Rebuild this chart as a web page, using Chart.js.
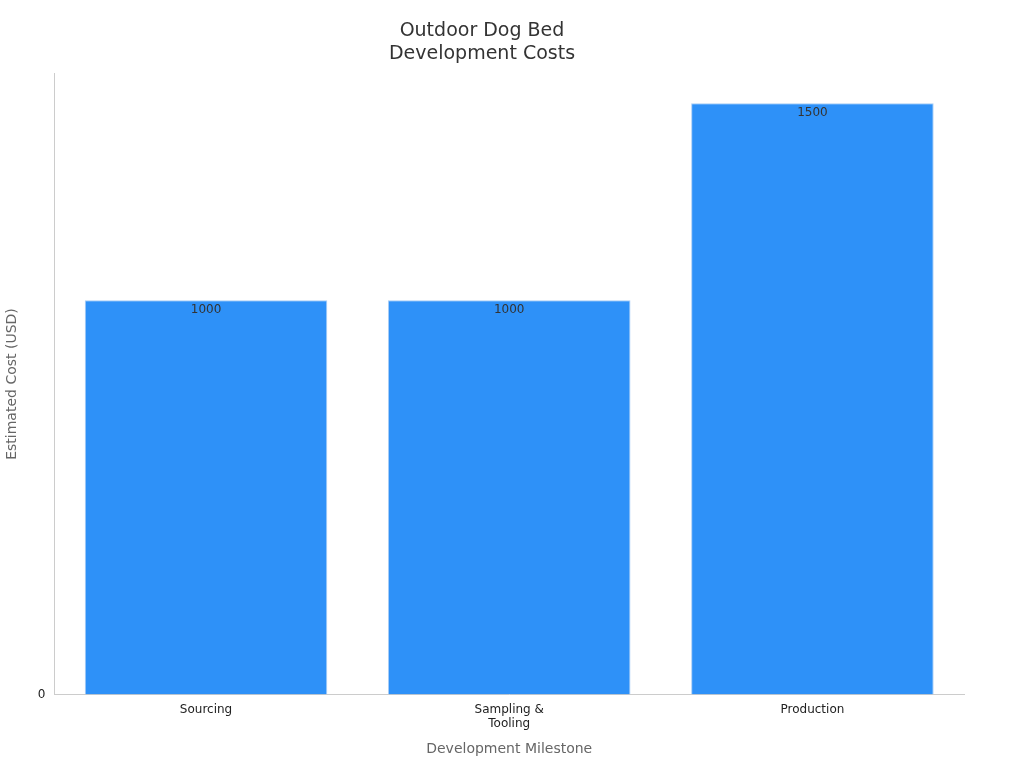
<!DOCTYPE html>
<html>
<head>
<meta charset="utf-8">
<script src="https://cdn.jsdelivr.net/npm/chart.js@4"></script>
<style>
  html, body { margin: 0; padding: 0; background: #fff; }
  #wrap { width: 1024px; height: 768px; }
</style>
</head>
<body>
<div id="wrap"><canvas id="c" width="1024" height="768"></canvas></div>
<script>
const categories = [["Sourcing"], ["Sampling &", "Tooling"], ["Production"]];
const costs = [1000, 1000, 1500];

// value labels just inside the top of each bar
const barLabels = {
  id: "barLabels",
  afterDatasetsDraw(chart) {
    const ctx = chart.ctx;
    const meta = chart.getDatasetMeta(0);
    ctx.save();
    ctx.font = "12px 'DejaVu Sans'";
    ctx.fillStyle = "#333";
    ctx.textAlign = "center";
    ctx.textBaseline = "top";
    meta.data.forEach((bar, i) => {
      ctx.fillText(String(costs[i]), bar.x, bar.y + 4);
    });
    ctx.restore();
  }
};

Chart.defaults.font.family = "'DejaVu Sans', sans-serif";

new Chart(document.getElementById("c"), {
  type: "bar",
  data: {
    labels: categories,
    datasets: [{
      data: costs,
      backgroundColor: "#2e91f8",
      borderColor: "#a9cdf5",
      borderWidth: 1,
      barPercentage: 0.8,
      categoryPercentage: 1.0
    }]
  },
  options: {
    responsive: false,
    animation: false,
    layout: { padding: { left: 0, right: 60, top: 10, bottom: 6 } },
    plugins: {
      legend: { display: false },
      tooltip: { enabled: false },
      title: {
        display: true,
        text: ["Outdoor Dog Bed", "Development Costs"],
        color: "#333",
        font: { size: 19, weight: "normal" },
        padding: { top: 10, bottom: 8 }
      }
    },
    scales: {
      x: {
        grid: { display: false, drawTicks: true, tickLength: 6, color: "#ccc" },
        border: { color: "#ccc" },
        ticks: { color: "#222", font: { size: 12 }, padding: 2 },
        title: {
          display: true,
          text: "Development Milestone",
          color: "#666",
          font: { size: 14 },
          padding: { top: 8 }
        }
      },
      y: {
        min: 0,
        max: 1575,
        grid: { display: false, drawTicks: true, tickLength: 6, color: "#ccc" },
        border: { color: "#ccc" },
        ticks: {
          stepSize: 200,
          color: "#222",
          font: { size: 12 },
          callback: v => (v % 200 === 0 ? v : "")
        },
        title: {
          display: true,
          text: "Estimated Cost (USD)",
          color: "#666",
          font: { size: 14 },
          padding: { bottom: 14 }
        }
      }
    }
  },
  plugins: [barLabels]
});
</script>
</body>
</html>
